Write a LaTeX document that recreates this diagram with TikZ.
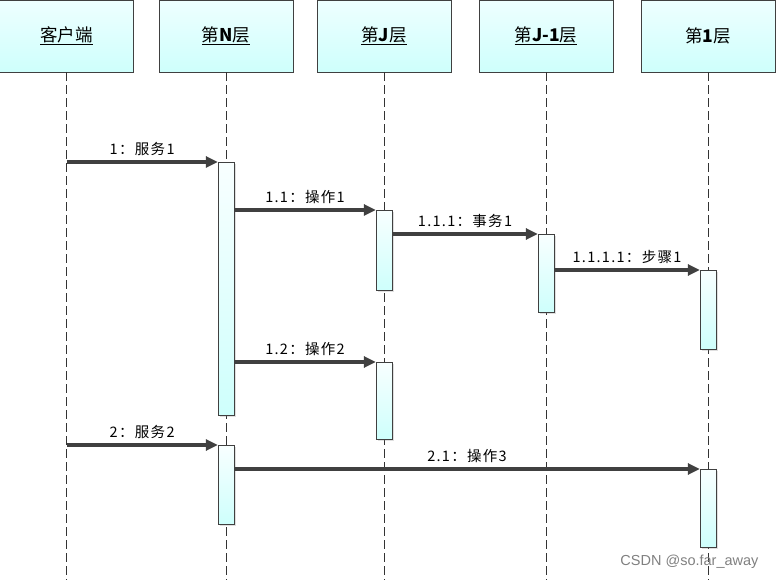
\documentclass[tikz,border=0pt]{standalone}
\usepackage{fontspec}
\setmainfont{Liberation Serif}
\newfontfamily\cjk{Noto Sans CJK SC}
\newfontfamily\lblfont[LetterSpace=9]{Noto Sans CJK SC}
\newfontfamily\wmfont{Liberation Sans}
\usetikzlibrary{arrows.meta,shadows}
\definecolor{boxtop}{RGB}{238,255,255}
\definecolor{boxbot}{RGB}{206,255,252}
\definecolor{msgc}{RGB}{64,64,64}
\begin{document}
\begin{tikzpicture}[x=1pt,y=-1pt]
\tikzstyle{head}=[draw=black!75,top color=boxtop,bottom color=boxbot,minimum width=134pt,minimum height=72pt,inner sep=0pt,font=\cjk\fontsize{17.5}{20}\selectfont]
\tikzstyle{life}=[draw=black!80,dash pattern=on 9pt off 4pt]
\tikzstyle{bar}=[draw=black!75,top color=boxtop!40!white,bottom color=boxbot,minimum width=16pt,inner sep=0pt,anchor=north,drop shadow={shadow xshift=1.5pt,shadow yshift=-1.5pt,opacity=0.25}]
\tikzstyle{msg}=[draw=msgc,line width=3.2pt,-{Triangle[length=12pt,width=11pt]}]
\tikzstyle{lbl}=[above=1.5pt,font=\lblfont\fontsize{14.5}{16}\selectfont]
\useasboundingbox(0,0)rectangle(777,580);
% heads and lifelines
\node[head](cli)at(66.5,36){\underline{客户端}};
\node[head](lN)at(226,36){\underline{第{\bfseries N}层}};
\node[head](lJ)at(384,36){\underline{第{\bfseries J}层}};
\node[head](lJm)at(546,36){\underline{第{\bfseries J-1}层}};
\node[head](l1)at(708,36){第{\bfseries 1}层};
\foreach \n in {cli,lN,lJ,lJm,l1}\draw[life](\n.south)--(\n.south|-0,580);
% activation bars
\node[bar,minimum height=253pt](n1)at(lN|-0,162){};
\node[bar,minimum height=80pt](j1)at(lJ|-0,210){};
\node[bar,minimum height=78pt](jm1)at(lJm|-0,234){};
\node[bar,minimum height=79pt](o1)at(l1|-0,270){};
\node[bar,minimum height=77pt](j2)at(lJ|-0,362){};
\node[bar,minimum height=79pt](n2)at(lN|-0,445){};
\node[bar,minimum height=78pt](o2)at(l1|-0,469){};
% messages
\path[msg](n1.north west-|cli)--(n1.north west)node[lbl,midway]{1：服务1};
\path[msg](j1.north west-|n1.east)--(j1.north west)node[lbl,midway]{1.1：操作1};
\path[msg](jm1.north west-|j1.east)--(jm1.north west)node[lbl,midway]{1.1.1：事务1};
\path[msg](o1.north west-|jm1.east)--(o1.north west)node[lbl,midway]{1.1.1.1：步骤1};
\path[msg](j2.north west-|n1.east)--(j2.north west)node[lbl,midway]{1.2：操作2};
\path[msg](n2.north west-|cli)--(n2.north west)node[lbl,midway]{2：服务2};
\path[msg](o2.north west-|n2.east)--(o2.north west)node[lbl,midway]{2.1：操作3};
\node[anchor=east,text=black!50,font=\wmfont\fontsize{14.5}{16}\selectfont](wm)at(762,562){CSDN @so.far\_away};
\end{tikzpicture}
\end{document}
